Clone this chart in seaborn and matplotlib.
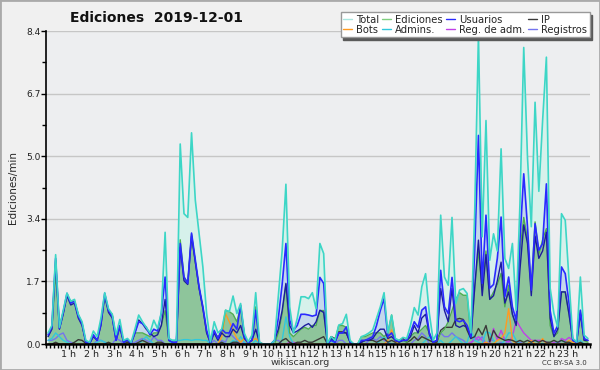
import numpy as np
import pandas as pd
import matplotlib
matplotlib.use('Agg')
import matplotlib.pyplot as plt
from matplotlib.lines import Line2D
from matplotlib.patches import Rectangle
import seaborn as sns

# ediciones por minuto, medias de 10 min (6 valores por hora)
total = [0.3, 0.5, 2.4, 0.45, 0.9, 1.37,
         1.15, 1.2, 0.8, 0.6, 0.1, 0.05,
         0.35, 0.2, 0.7, 1.38, 0.95, 0.8,
         0.25, 0.66, 0.1, 0.15, 0.05, 0.4,
         0.78, 0.6, 0.45, 0.3, 0.64, 0.42,
         0.85, 3.0, 0.15, 0.1, 0.1, 5.37,
         3.5, 3.4, 5.67, 3.86, 2.96, 2.07,
         0.82, 0.06, 0.6, 0.3, 0.4, 0.91,
         0.87, 1.29, 0.82, 1.09, 0.29, 0.06,
         0.24, 1.38, 0.05, 0, 0, 0,
         0.1, 1.3, 2.5, 4.29, 1.0, 0.29,
         0.69, 1.27, 1.27, 1.22, 1.38, 0.95,
         2.7, 2.43, 0.02, 0.2, 0.1, 0.51,
         0.55, 0.8, 0.1, 0, 0, 0.2,
         0.24, 0.3, 0.38, 0.69, 1.0, 1.38,
         0.3, 0.78, 0.15, 0.1, 0.18, 0.15,
         0.5, 0.98, 0.78, 1.54, 1.89, 0.82,
         0.1, 0.3, 3.46, 1.8, 1.58, 3.4,
         1.09, 1.45, 1.49, 1.36, 0.3, 3.5,
         8.3, 2.88, 6.0, 2.25, 2.96, 2.5,
         5.24, 2.3, 2.03, 2.7, 0.91, 3.77,
         7.96, 5.0, 3.15, 6.49, 4.1, 6.0,
         7.7, 1.5, 0.82, 0.46, 3.5, 3.32,
         1.71, 0.15, 0.06, 1.8, 0.24, 0.15]

ediciones = [0.2, 0.4, 1.9, 0.45, 0.85, 1.3,
             1.15, 1.15, 0.8, 0.55, 0.05, 0.02,
             0.2, 0.1, 0.55, 1.3, 0.9, 0.8,
             0.2, 0.5, 0.08, 0.1, 0.03, 0.3,
             0.3, 0.3, 0.25, 0.2, 0.3, 0.3,
             0.5, 0.9, 0.1, 0.05, 0.05, 2.8,
             1.8, 1.65, 2.95, 2.2, 1.5, 1.0,
             0.3, 0.03, 0.3, 0.2, 0.3, 0.91,
             0.87, 0.8, 0.6, 1.0, 0.25, 0.05,
             0.1, 1.0, 0.03, 0, 0, 0,
             0, 0.3, 0.8, 1.6, 0.3, 0.2,
             0.3, 0.4, 0.45, 0.4, 0.5, 0.5,
             0.9, 0.9, 0, 0.2, 0.1, 0.5,
             0.5, 0.45, 0.05, 0, 0, 0.2,
             0.2, 0.25, 0.3, 0.3, 0.3, 0.2,
             0.3, 0.78, 0.1, 0.05, 0.1, 0.05,
             0.2, 0.3, 0.3, 0.4, 0.5, 0.3,
             0.05, 0.1, 0.3, 0.4, 0.6, 0.9,
             1.2, 1.38, 1.31, 1.31, 0.2, 1.5,
             2.5, 1.5, 2.5, 1.2, 1.4, 1.6,
             1.9, 1.0, 1.58, 0.8, 0.5, 2.5,
             3.4, 2.8, 1.5, 3.28, 2.4, 2.8,
             3.1, 0.5, 0.2, 0.3, 1.4, 1.4,
             0.8, 0.1, 0.05, 0.9, 0.1, 0.05]

usuarios = [0.25, 0.45, 2.3, 0.42, 0.85, 1.36,
            1.1, 1.15, 0.75, 0.55, 0.05, 0.02,
            0.25, 0.1, 0.55, 1.36, 0.9, 0.75,
            0.1, 0.5, 0.05, 0.12, 0.02, 0.3,
            0.6, 0.55, 0.45, 0.25, 0.4, 0.35,
            0.82, 1.8, 0.1, 0.05, 0.05, 2.7,
            1.8, 1.63, 2.98, 2.25, 1.54, 1.0,
            0.37, 0.03, 0.37, 0.15, 0.4, 0.3,
            0.3, 0.55, 0.4, 1.04, 0.2, 0.03,
            0.1, 0.91, 0.03, 0, 0, 0,
            0.1, 0.7, 1.6, 2.7, 0.64, 0.37,
            0.5, 0.8, 0.8, 0.78, 0.75, 0.78,
            1.79, 1.63, 0.01, 0.1, 0.05, 0.3,
            0.3, 0.46, 0.05, 0, 0, 0.1,
            0.1, 0.15, 0.2, 0.5, 0.9, 1.22,
            0.2, 0.3, 0.1, 0.08, 0.1, 0.1,
            0.3, 0.6, 0.45, 0.91, 1.0, 0.3,
            0.05, 0.1, 1.98, 1.0, 0.82, 1.79,
            0.64, 0.6, 0.64, 0.5, 0.2, 2.5,
            5.6, 1.63, 3.46, 1.5, 1.6, 2.3,
            3.41, 1.27, 1.8, 1.0, 0.64, 2.79,
            4.57, 3.14, 1.45, 3.23, 2.52, 2.7,
            4.3, 0.9, 0.29, 0.5, 2.07, 1.89,
            1.09, 0.1, 0.05, 0.91, 0.15, 0.1]

# segunda curva azul oscura (sin entrada en la leyenda)
usuarios_art = [0.2, 0.4, 2.25, 0.4, 0.8, 1.3,
                1.05, 1.1, 0.7, 0.5, 0.05, 0.02,
                0.2, 0.1, 0.5, 1.3, 0.85, 0.7,
                0.1, 0.45, 0.05, 0.1, 0.02, 0.3,
                0.65, 0.55, 0.4, 0.3, 0.2, 0.25,
                0.5, 1.2, 0.1, 0.05, 0.05, 2.6,
                1.7, 1.6, 2.9, 2.2, 1.5, 0.95,
                0.3, 0.03, 0.3, 0.1, 0.3, 0.2,
                0.2, 0.4, 0.3, 0.5, 0.15, 0.03,
                0.1, 0.4, 0.03, 0, 0, 0,
                0.1, 0.4, 0.9, 1.63, 0.5, 0.3,
                0.35, 0.42, 0.5, 0.55, 0.45, 0.6,
                0.91, 0.85, 0.01, 0.15, 0.05, 0.3,
                0.3, 0.3, 0.05, 0, 0, 0.05,
                0.1, 0.1, 0.15, 0.3, 0.4, 0.4,
                0.15, 0.2, 0.1, 0.05, 0.1, 0.1,
                0.2, 0.5, 0.3, 0.7, 0.8, 0.25,
                0.05, 0.1, 1.49, 0.9, 0.6, 1.49,
                0.5, 0.45, 0.5, 0.45, 0.15, 1.5,
                2.79, 1.3, 2.4, 1.2, 1.3, 1.7,
                2.2, 1.1, 1.4, 0.8, 0.5, 2.0,
                3.2, 2.7, 1.3, 2.9, 2.3, 2.5,
                3.0, 0.7, 0.2, 0.4, 1.4, 1.4,
                0.8, 0.1, 0.05, 0.8, 0.1, 0.1]

ip = [0, 0, 0.05, 0, 0, 0,
      0, 0.05, 0.12, 0.1, 0.02, 0,
      0, 0, 0, 0, 0.05, 0,
      0, 0, 0, 0.05, 0, 0,
      0.05, 0.1, 0.05, 0, 0, 0.05,
      0.05, 0, 0, 0, 0, 0,
      0, 0, 0, 0, 0, 0,
      0, 0, 0, 0, 0.05, 0,
      0, 0.05, 0.05, 0, 0, 0,
      0, 0, 0, 0, 0, 0,
      0, 0, 0.1, 0.15, 0.05, 0,
      0.05, 0.05, 0.1, 0.05, 0.05, 0.1,
      0.15, 0.2, 0, 0.2, 0.15, 0.33,
      0.33, 0.3, 0.05, 0, 0, 0.05,
      0.1, 0.1, 0.1, 0.05, 0.1, 0.15,
      0.05, 0.1, 0.05, 0.1, 0.15, 0.05,
      0.1, 0.2, 0.1, 0.2, 0.15, 0.1,
      0.05, 0.05, 0.37, 0.45, 0.45, 0.45,
      0.66, 0.69, 0.66, 0.37, 0.15, 0.2,
      0.42, 0.25, 0.5, 0.06, 0.37, 0.2,
      0.15, 0.1, 0.12, 0.1, 0.05, 0.1,
      0.05, 0.1, 0.05, 0.1, 0.05, 0.1,
      0.05, 0.05, 0.1, 0.05, 0.1, 0.05,
      0.05, 0, 0, 0.05, 0, 0]

bots = [0, 0, 0, 0, 0, 0,
        0, 0, 0, 0, 0, 0,
        0, 0, 0, 0, 0, 0,
        0, 0, 0, 0, 0, 0,
        0, 0, 0, 0, 0, 0,
        0, 0, 0, 0, 0, 0,
        0, 0, 0, 0, 0, 0,
        0, 0, 0, 0, 0.2, 0.82,
        0.6, 0.37, 0.15, 0.05, 0.15, 0,
        0.1, 0.15, 0.05, 0, 0, 0,
        0, 0, 0, 0, 0, 0,
        0, 0, 0, 0, 0, 0,
        0, 0, 0, 0, 0, 0,
        0, 0, 0, 0, 0, 0,
        0, 0, 0, 0, 0, 0,
        0.1, 0.38, 0.05, 0, 0, 0,
        0, 0, 0, 0, 0, 0,
        0, 0, 0, 0, 0, 0,
        0, 0, 0, 0, 0, 0,
        0, 0, 0.05, 0, 0, 0.1,
        0.15, 0.3, 0.95, 0.1, 0, 0,
        0, 0, 0.1, 0, 0, 0.15,
        0, 0, 0, 0, 0, 0,
        0.1, 0.05, 0, 0, 0, 0]

admins = [0.1, 0.15, 0.3, 0.2, 0.1, 0.05,
          0, 0, 0, 0, 0, 0,
          0, 0.05, 0.1, 0.05, 0, 0,
          0, 0, 0, 0.05, 0, 0,
          0, 0.1, 0.2, 0.1, 0, 0,
          0, 0, 0, 0.1, 0.1, 0.1,
          0.12, 0.12, 0.1, 0.12, 0.12, 0.1,
          0.1, 0, 0, 0, 0.05, 0,
          0, 0.1, 0.05, 0.2, 0.05, 0,
          0, 0.1, 0, 0, 0, 0,
          0, 0, 0.1, 0.73, 0.2, 0,
          0, 0, 0, 0, 0, 0,
          0, 0, 0, 0.1, 0, 0,
          0, 0, 0, 0, 0, 0,
          0, 0, 0, 0, 0.1, 0.2,
          0.05, 0, 0, 0, 0, 0,
          0, 0, 0, 0, 0.1, 0.2,
          0.05, 0, 0.1, 0, 0, 0.1,
          0.2, 0.1, 0, 0.05, 0.37, 0.1,
          0.05, 0, 0.33, 0.3, 0.1, 0,
          0, 0.1, 0.3, 0.3, 0.1, 0,
          0, 0, 0.05, 0.1, 0.05, 0,
          0, 0, 0, 0.05, 0.1, 0.05,
          0, 0, 0.05, 0.1, 0, 0]

reg_adm = [0, 0, 0, 0, 0, 0,
           0, 0, 0, 0, 0, 0,
           0, 0, 0, 0, 0, 0,
           0, 0, 0, 0, 0, 0,
           0, 0, 0, 0, 0, 0,
           0, 0, 0, 0, 0, 0,
           0, 0, 0, 0, 0, 0,
           0, 0, 0, 0, 0, 0,
           0, 0, 0, 0, 0, 0,
           0, 0, 0, 0, 0, 0,
           0, 0, 0, 0, 0.05, 0.05,
           0, 0, 0, 0, 0, 0,
           0, 0, 0, 0, 0, 0,
           0, 0, 0, 0, 0, 0,
           0, 0, 0, 0, 0, 0,
           0, 0, 0, 0, 0, 0,
           0, 0, 0, 0, 0, 0,
           0, 0, 0, 0, 0, 0,
           0, 0, 0, 0, 0.05, 0.1,
           0.2, 0.1, 0, 0, 0.42, 0.1,
           0.37, 0.1, 0.05, 0.2, 0.64, 0.46,
           0.3, 0.2, 0.1, 0.1, 0.1, 0.1,
           0.05, 0, 0.05, 0, 0.15, 0.1,
           0.18, 0.1, 0, 0, 0, 0]

registros = [0.1, 0.1, 0.15, 0.25, 0.3, 0.1,
             0.05, 0, 0, 0, 0, 0,
             0, 0.1, 0.1, 0.05, 0, 0,
             0.15, 0.1, 0, 0.15, 0, 0.05,
             0.1, 0.15, 0.1, 0.05, 0.2, 0.1,
             0.1, 0, 0, 0, 0, 0,
             0, 0, 0, 0, 0, 0,
             0, 0, 0.1, 0, 0.1, 0.05,
             0.3, 0.2, 0.1, 0, 0.05, 0,
             0, 0, 0, 0, 0, 0,
             0.1, 0.1, 0, 0, 0, 0,
             0, 0, 0, 0, 0, 0,
             0, 0, 0, 0, 0, 0.1,
             0.1, 0, 0, 0, 0, 0,
             0, 0.1, 0.15, 0.1, 0.2, 0.1,
             0.05, 0, 0, 0, 0, 0,
             0, 0.1, 0.15, 0.3, 0.2, 0,
             0, 0.1, 0.3, 0.2, 0.2, 0.3,
             0.2, 0.15, 0.1, 0, 0, 0.2,
             0.1, 0.2, 0, 0.1, 0.1, 0,
             0.05, 0, 0.1, 0, 0, 0.05,
             0, 0, 0, 0, 0, 0,
             0, 0, 0, 0.05, 0, 0,
             0, 0, 0, 0, 0, 0]

y_ticks = [0.0, 1.68, 3.36, 5.04, 6.72, 8.4]
y_labels = ['0.0', '1.7', '3.4', '5.0', '6.7', '8.4']
x_labels = [f'{h} h' for h in range(1, 24)]

df = pd.DataFrame({'hora': np.arange(144) / 6 + 1 / 12,
                   'Total': total, 'Ediciones': ediciones, 'Usuarios': usuarios,
                   'UsuariosArt': usuarios_art, 'IP': ip, 'Bots': bots,
                   'Admins.': admins, 'Reg. de adm.': reg_adm, 'Registros': registros})

sns.set_theme(style='ticks')
plt.rcParams['font.family'] = ['DejaVu Sans']

fig = plt.figure(figsize=(6, 3.7), dpi=100, facecolor='#f0f0f0')
ax = fig.add_axes([0.077, 0.070, 0.906, 0.846])
ax.set_facecolor('#edeef0')

colors = {'Total': '#3dd6c6', 'Ediciones': '#4fae4f', 'Usuarios': '#2a2aff',
          'UsuariosArt': '#1c1c9c', 'IP': '#3a3a3a', 'Bots': '#ff9a22',
          'Admins.': '#30c8dc', 'Reg. de adm.': '#c040e8', 'Registros': '#7474ee'}

ax.fill_between(df['hora'], df['Total'], color='#d6f1eb', lw=0)
ax.fill_between(df['hora'], df['Usuarios'], color='#c4d8ec', lw=0)
ax.fill_between(df['hora'], df['Ediciones'], color='#8ec59b', lw=0)

for col in ['Registros', 'Reg. de adm.', 'Admins.', 'Bots', 'IP',
            'Ediciones', 'UsuariosArt', 'Usuarios', 'Total']:
    lw = 1.2 if col in ('Usuarios', 'Total') else 1.0
    sns.lineplot(data=df, x='hora', y=col, ax=ax, color=colors[col], lw=lw)

ax.set_xlim(0, 24)
ax.set_ylim(0, 8.4)
ax.set_yticks(y_ticks)
ax.set_yticklabels(y_labels, fontsize=6.5, color='#222222')
ax.set_yticks([0.84, 2.52, 4.2, 5.88, 7.56], minor=True)
ax.set_xticks(range(1, 24))
ax.set_xticklabels(x_labels, fontsize=6.8, color='#222222')
ax.set_xticks(np.arange(0, 24.01, 1 / 6), minor=True)
ax.tick_params(axis='both', which='major', length=3.5, width=1, color='black', pad=0.5)
ax.tick_params(axis='both', which='minor', length=3, width=1, color='black')
ax.grid(axis='y', color='#c6c6c6', lw=1)
ax.set_axisbelow(True)
ax.set_xlabel('')
ax.set_ylabel('Ediciones/min', fontsize=7.5, labelpad=6)
for s in ['top', 'right']:
    ax.spines[s].set_visible(False)
ax.spines['left'].set_color('black')
ax.spines['bottom'].set_color('black')
ax.spines['bottom'].set_linewidth(1.8)
ax.spines['left'].set_linewidth(1.2)

if ax.get_legend() is not None:
    ax.get_legend().remove()

order = ['Total', 'Bots', 'Ediciones', 'Admins.', 'Usuarios', 'Reg. de adm.', 'IP', 'Registros']
legend_colors = dict(colors, Total='#a8e6df', Ediciones='#7fcf7f')
handles = [Line2D([0], [0], color=legend_colors[k], lw=1) for k in order]
leg = fig.legend(handles, order, loc='upper right', bbox_to_anchor=(0.986, 0.972),
                 ncol=4, fontsize=7.2, frameon=True, fancybox=False,
                 shadow={'color': '#5a5a5a', 'alpha': 1},
                 handlelength=0.9, handletextpad=0.4, columnspacing=0.3,
                 labelspacing=0.0, borderpad=0.25, borderaxespad=0.2)
leg.get_frame().set_edgecolor('#999999')
leg.get_frame().set_facecolor('white')

fig.text(0.26, 0.952, 'Ediciones  2019-12-01', fontsize=10, fontweight='bold',
         ha='center', va='center', color='#111111')
fig.text(0.5, 0.02, 'wikiscan.org', fontsize=6.8, ha='center', va='center', color='#333333')
fig.text(0.94, 0.02, 'CC BY-SA 3.0', fontsize=5, ha='center', va='center', color='#333333')
fig.patches.append(Rectangle((0, 0), 1, 1, transform=fig.transFigure, fill=False,
                             edgecolor='#aaaaaa', lw=2))

fig.savefig('out.png', dpi=100, facecolor=fig.get_facecolor())
